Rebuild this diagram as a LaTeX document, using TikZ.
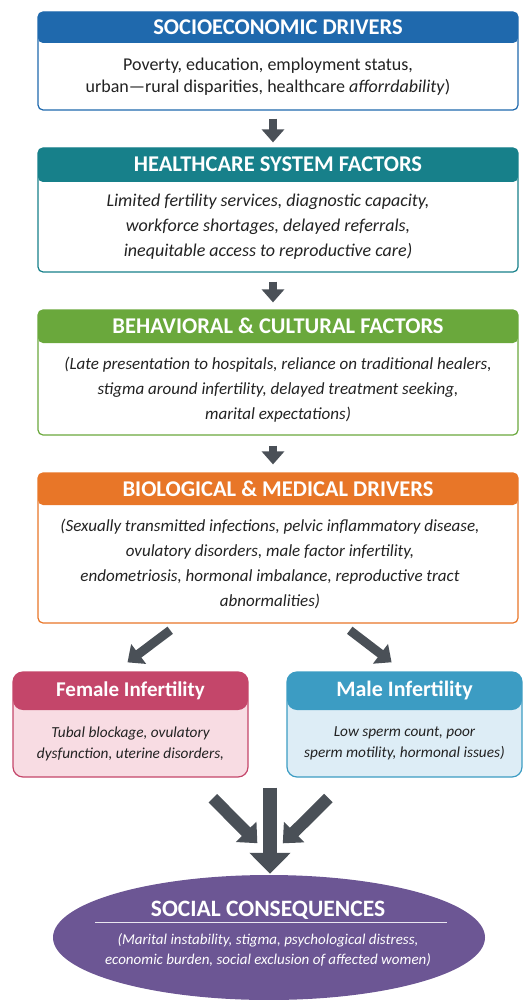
\documentclass[tikz,border=0pt]{standalone}
\usepackage{fontspec}
\setmainfont{Carlito}
\usetikzlibrary{arrows.meta, positioning, calc, shapes.geometric}
\definecolor{socioblue}{HTML}{1F69AD}
\definecolor{systemteal}{HTML}{17808A}
\definecolor{behavgreen}{HTML}{6AA83C}
\definecolor{bioorange}{HTML}{E87628}
\definecolor{femalered}{HTML}{C4466A}
\definecolor{femalepink}{HTML}{F8DCE3}
\definecolor{maleblue}{HTML}{3C9CC3}
\definecolor{malesky}{HTML}{DDEDF6}
\definecolor{socialpurple}{HTML}{6C5694}
\definecolor{arrowgray}{HTML}{4A5057}
\definecolor{bodyink}{HTML}{222222}

\begin{document}
\begin{tikzpicture}[
    x=1pt, y=-1pt,
    band/.store in=\bandh, band=32pt,
    stage/.style={rectangle, rounded corners=5pt, draw=#1, fill=white, line width=1.2pt, minimum width=480pt,
        path picture={\fill[#1] (path picture bounding box.north west) rectangle ([yshift=-\bandh]path picture bounding box.north east);}},
    headtext/.style={text=white, font=\fontsize{22.5}{26}\selectfont\bfseries, inner sep=0pt},
    bodytext/.style={text=bodyink, font=\fontsize{17}{24}\selectfont, align=center, inner sep=0pt},
    sidetext/.style={text=bodyink, font=\fontsize{15.3}{21}\selectfont\itshape, align=center, inner sep=0pt},
    arrow/.style={arrowgray, line width=8pt, -{Triangle[width=22pt,length=13pt]}},
    slant/.style={arrowgray, line width=9pt, -{Triangle[width=24pt,length=14pt]}},
    merge/.style={arrowgray, line width=12pt, -{Triangle[width=28pt,length=16pt]}},
    bigarrow/.style={arrowgray, line width=14pt, -{Triangle[width=40pt,length=21pt]}}
]
\useasboundingbox (0,0) rectangle (528,1000);

% Socioeconomic drivers
\node[stage=socioblue, band=31pt, minimum height=98pt] (socio) at (278,61) {};
\node[headtext, minimum height=31pt, below=0pt of socio.north] (socio-t) {SOCIOECONOMIC DRIVERS};
\node[bodytext, font=\fontsize{18}{21.5}\selectfont] (socio-b) at ($(socio-t.south)!0.5!(socio.south)+(-10,0)$)
    {Poverty, education, employment status,\\urban—rural disparities, healthcare \textit{afforrdability})};

% Healthcare system factors
\node[stage=systemteal, band=34pt, minimum height=124pt] (health) at (278,210) {};
\node[headtext, minimum height=34pt, below=0pt of health.north] (health-t) {HEALTHCARE SYSTEM FACTORS};
\node[bodytext, font=\fontsize{18}{25}\selectfont\itshape] (health-b) at ($(health-t.south)!0.5!(health.south)+(-10,0)$)
    {Limited fertility services, diagnostic capacity,\\workforce shortages, delayed referrals,\\inequitable access to reproductive care)};

% Behavioral and cultural factors
\node[stage=behavgreen, band=33pt, minimum height=125pt] (behav) at (278,372.5) {};
\node[headtext, minimum height=33pt, below=0pt of behav.north] (behav-t) {BEHAVIORAL \& CULTURAL FACTORS};
\node[bodytext, font=\fontsize{17}{25}\selectfont\itshape] (behav-b) at ($(behav-t.south)!0.5!(behav.south)$)
    {(Late presentation to hospitals, reliance on traditional healers,\\stigma around infertility, delayed treatment seeking,\\marital expectations)};

% Biological and medical drivers
\node[stage=bioorange, band=32pt, minimum height=150pt] (bio) at (278,548) {};
\node[headtext, minimum height=32pt, below=0pt of bio.north] (bio-t) {BIOLOGICAL \& MEDICAL DRIVERS};
\node[bodytext, font=\fontsize{17}{25}\selectfont\itshape] (bio-b) at ($(bio-t.south)!0.5!(bio.south)+(-8,0)$)
    {(Sexually transmitted infections, pelvic inflammatory disease,\\ovulatory disorders, male factor infertility,\\endometriosis, hormonal imbalance, reproductive tract\\abnormalities)};

% Female and male infertility
\node[stage=femalered, fill=femalepink, rounded corners=10pt, band=38pt, minimum width=235pt, minimum height=105pt] (female) at (130.5,724.5) {};
\node[headtext, font=\fontsize{21}{24}\selectfont\bfseries, minimum height=38pt, below=0pt of female.north] (female-t) {Female Infertility};
\node[sidetext] (female-b) at ($(female-t.south)!0.5!(female.south)$)
    {Tubal blockage, ovulatory\\dysfunction, uterine disorders,};

\node[stage=maleblue, fill=malesky, rounded corners=10pt, band=38pt, minimum width=235pt, minimum height=105pt] (male) at (404.5,724.5) {};
\node[headtext, font=\fontsize{22}{24}\selectfont\bfseries, minimum height=38pt, below=0pt of male.north] (male-t) {Male Infertility};
\node[sidetext] (male-b) at ($(male-t.south)!0.5!(male.south)$)
    {Low sperm count, poor\\sperm motility, hormonal issues)};

% Social consequences
\node[ellipse, fill=socialpurple, minimum width=432pt, minimum height=125pt] (social) at (269,937.5) {};
\node[headtext, font=\fontsize{23.5}{26}\selectfont\bfseries] (social-t) at (268,910) {SOCIAL CONSEQUENCES};
\draw[white!85!socialpurple, line width=0.8pt] ([xshift=-174pt,yshift=15.5pt]social.center) -- ([xshift=178pt,yshift=15.5pt]social.center);
\node[sidetext, text=white, font=\fontsize{15}{20.5}\selectfont\itshape] (social-b) at (268,950)
    {(Marital instability, stigma, psychological distress,\\economic burden, social exclusion of affected women)};

% Arrows down the chain
\draw[arrow, shorten <=8pt, shorten >=5pt] ([xshift=-5pt]socio.south) -- ([xshift=-5pt]health.north);
\draw[arrow, shorten <=9pt, shorten >=7pt] ([xshift=-5pt]health.south) -- ([xshift=-5pt]behav.north);
\draw[arrow, shorten <=10pt, shorten >=8pt] ([xshift=-5pt]behav.south) -- ([xshift=-5pt]bio.north);

% Split into female and male
\draw[slant, shorten <=11pt, shorten >=15pt] ($(bio.south)+(-99,0)$) -- ($(female.north)+(-15,0)$);
\draw[slant, shorten <=11pt, shorten >=15pt] ($(bio.south)+(63,0)$) -- ($(male.north)+(-1,0)$);

% Converging onto social consequences
\coordinate (join) at (270,856);
\draw[merge, shorten <=29pt, shorten >=18pt] ($(female.south)+(62,0)$) -- (join);
\draw[merge, shorten <=29pt, shorten >=18pt] ($(male.south)+(-55.5,0)$) -- (join);
\draw[bigarrow, shorten <=10pt, shorten >=1pt] (female.south -| join) -- (social.north -| join);

\end{tikzpicture}
\end{document}
